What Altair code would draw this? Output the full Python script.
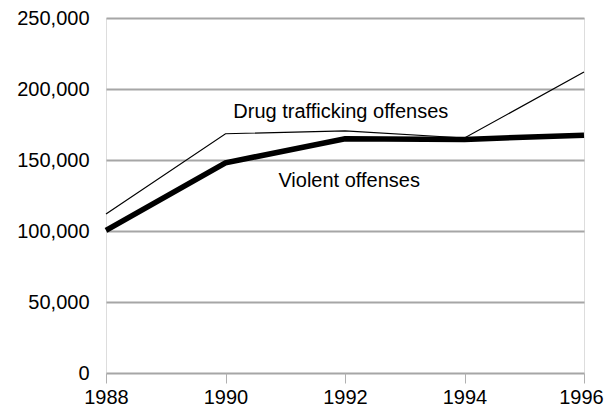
import altair as alt
import pandas as pd

years = [1988, 1990, 1992, 1994, 1996]
drug = [112000, 168500, 170500, 165500, 212000]
violent = [100500, 148000, 165000, 164500, 167500]
y_ticks = [0, 50000, 100000, 150000, 200000, 250000]
label_text = ["Drug trafficking offenses", "Violent offenses"]
label_x = [1991.93, 1992.07]
label_y = [179500, 131000]

df = pd.DataFrame({
    "year": years * 2,
    "value": drug + violent,
    "series": ["Drug trafficking offenses"] * 5 + ["Violent offenses"] * 5,
})
lab = pd.DataFrame({"year": label_x, "value": label_y, "text": label_text})

FONT = "Liberation Sans"
x = alt.X("year:Q", scale=alt.Scale(domain=[1988, 1996], nice=False, zero=False),
          axis=alt.Axis(values=years, format="d", title=None, grid=False,
                        domain=False, tickSize=10, tickColor="#b0b0b0", tickWidth=1,
                        labelPadding=4, labelFontSize=20, labelFont=FONT,
                        labelFlush=False, labelOverlap=False,
                        labelOffset={"condition": {"test": "datum.value == 1996", "value": -3},
                                     "value": 0},
                        labelColor="#000000"))
y = alt.Y("value:Q", scale=alt.Scale(domain=[0, 250000], nice=False),
          axis=alt.Axis(values=y_ticks, format=",d", title=None, grid=True,
                        gridColor="#a6a6a6", gridWidth=2, domain=False, ticks=False,
                        labelPadding=17, labelFontSize=20, labelFont=FONT,
                        labelColor="#000000"))

lines = alt.Chart(df).mark_line(color="black").encode(
    x=x, y=y,
    strokeWidth=alt.StrokeWidth("series:N",
                                scale=alt.Scale(domain=["Drug trafficking offenses", "Violent offenses"],
                                                range=[1.2, 5.5]),
                                legend=None),
    detail="series:N",
)

texts = alt.Chart(lab).mark_text(font=FONT, fontSize=20, color="black",
                                 align="center", baseline="alphabetic").encode(
    x=x, y=y, text="text:N")

chart = alt.layer(lines, texts).properties(
    width=478, height=355,
    autosize=alt.AutoSizeParams(type="none"),
    padding={"left": 98, "top": 10, "right": 20, "bottom": 35},
).configure_view(stroke="#a6a6a6", strokeWidth=2).configure(background="white")

chart.save("out.html", embed_options={"renderer": "svg", "actions": False})
